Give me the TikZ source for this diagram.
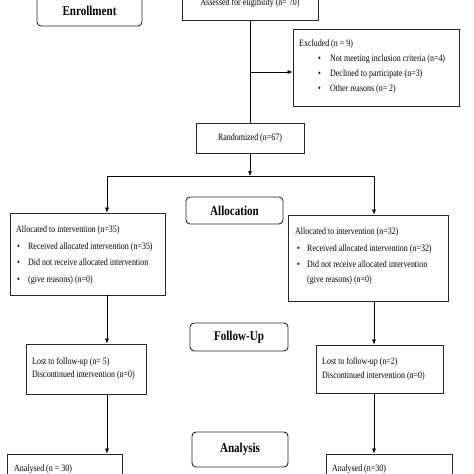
\documentclass[tikz,border=0pt]{standalone}
\usepackage{fontspec}
\setmainfont{Liberation Serif}[FakeStretch=0.82]
\usetikzlibrary{arrows.meta,calc}
\begin{document}
\begin{tikzpicture}[x=1pt,y=-1pt,
 box/.style={draw=black!85, line width=0.7pt, inner sep=0pt, font=\fontsize{9.7}{11}\selectfont},
 stage/.style={draw=black!85, line width=0.9pt, rounded corners=4pt, inner sep=0pt, font=\fontsize{13.5}{15}\selectfont\bfseries},
 txt/.style={font=\fontsize{9.7}{16.5}\selectfont, align=left, anchor=north west, inner sep=0pt},
 arr/.style={-{Latex[length=5pt,width=4pt]}, line width=0.6pt},
 ln/.style={line width=0.6pt}]
\useasboundingbox (0,0) rectangle (474,474);
\newcommand{\bl}[1]{\makebox[#1][l]{\textbullet}}
% stage labels
\node[stage, minimum width=105, minimum height=30] (enr) at (89.5,11) {Enrollment};
\node[stage, minimum width=97, minimum height=27] (alc) at (234.5,210.5) {Allocation};
\node[stage, minimum width=98, minimum height=28] (fup) at (239,337) {Follow-Up};
\node[stage, minimum width=96, minimum height=35] (ana) at (240,449.5) {Analysis};
% boxes
\node[box, minimum width=136, minimum height=34] (assess) at (250,3) {Assessed for eligibility (n= 70)};
\node[box, minimum width=166, minimum height=77] (excl) at (376,67.5) {};
\node[txt, font=\fontsize{9.7}{14.8}\selectfont] (excltxt) at (299,40) {Excluded (n = 9)\\
\hspace*{19pt}\bl{12pt}Not meeting inclusion criteria (n=4)\\
\hspace*{19pt}\bl{12pt}Declined to participate (n=3)\\
\hspace*{19pt}\bl{12pt}Other reasons (n= 2)};
\node[box, minimum width=108, minimum height=30] (rand) at (250,138) {Randomized (n=67)};
\node[box, minimum width=155, minimum height=82] (al1) at (87.5,254) {};
\node[txt] (al1txt) at (16,226) {Allocated to intervention (n=35)\\
\hspace*{1pt}\bl{11pt}Received allocated intervention (n=35)\\
\hspace*{1pt}\bl{11pt}Did not receive allocated intervention\\
\hspace*{1pt}\bl{11pt}(give reasons) (n=0)};
\node[box, minimum width=160, minimum height=86] (al2) at (368,258) {};
\node[txt] (al2txt) at (295,228) {Allocated to intervention (n=32)\\
\hspace*{2pt}\bl{10pt}Received allocated intervention (n=32)\\
\hspace*{2pt}\bl{10pt}Did not receive allocated intervention\\[-1.5pt]
\hspace*{12pt}(give reasons) (n=0)};
\node[box, minimum width=120, minimum height=50] (lost1) at (86,369) {};
\node[txt, font=\fontsize{9.7}{13.5}\selectfont] (lost1txt) at (32,357) {Lost to follow-up (n= 5)\\Discontinued intervention (n=0)};
\node[box, minimum width=127, minimum height=48] (lost2) at (379.5,369) {};
\node[txt, font=\fontsize{9.7}{14.5}\selectfont] (lost2txt) at (322,357) {Lost to follow-up (n=2)\\Discontinued intervention (n=0)};
\node[box, minimum width=115, minimum height=40] (an1) at (64.5,474) {};
\node[txt] (an1txt) at (14,465) {Analysed (n = 30)};
\node[box, minimum width=126, minimum height=40] (an2) at (389,474) {};
\node[txt] (an2txt) at (332,465) {Analysed (n=30)};
% connectors
\coordinate (exj) at (250,72);
\coordinate (split) at (250,176);
\coordinate (lt) at (107,176);
\coordinate (rt) at (374,176);
\draw[ln] (assess.south) -- (rand.north);
\draw[arr] (exj) -- (exj -| excl.west);
\draw[arr] (rand.south) -- (split);
\draw[ln] (lt) -- (rt);
\draw[arr] (lt) -- (lt |- al1.north);
\draw[arr] (rt) -- (rt |- al2.north);
\draw[arr] (al1.south -| lt) -- (lt |- lost1.north);
\draw[arr] (lost1.south -| lt) -- (lt |- an1.north);
\draw[arr] (al2.south -| rt) -- (rt |- lost2.north);
\draw[arr] (lost2.south -| rt) -- (rt |- an2.north);
\end{tikzpicture}
\end{document}
